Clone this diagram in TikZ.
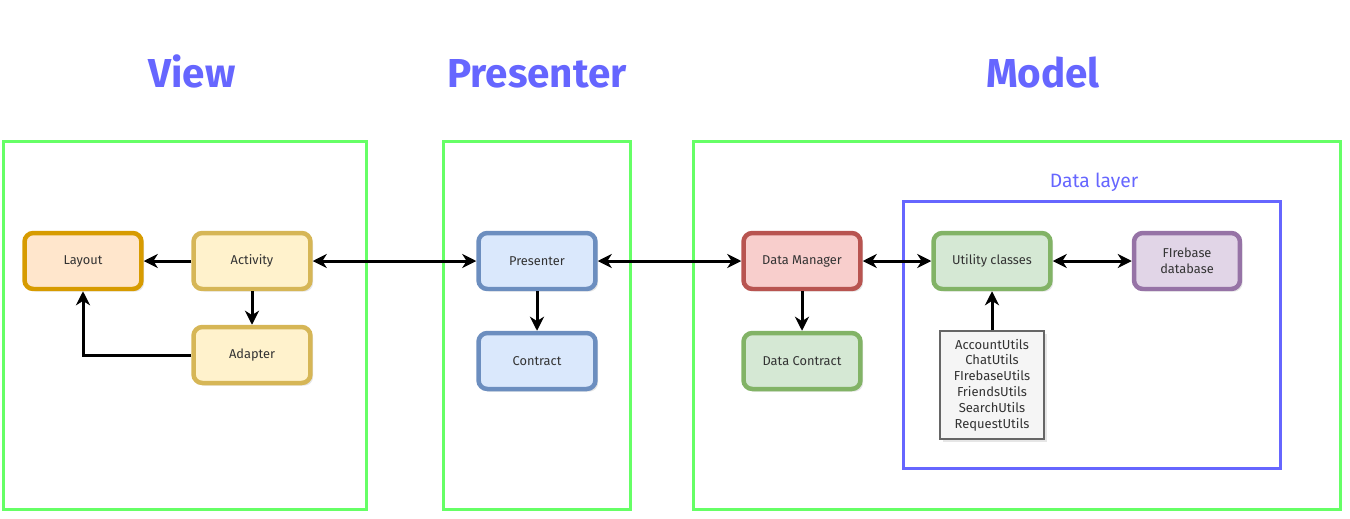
\documentclass[tikz,border=0pt]{standalone}
\usepackage{fontspec}
\setmainfont{Fira Sans}
\usetikzlibrary{arrows.meta, positioning, shadows}
\definecolor{titleblue}{HTML}{6666FF}
\definecolor{framegreen}{HTML}{66FF66}
\definecolor{orangefill}{HTML}{FFE6CC}
\definecolor{orangeline}{HTML}{D79B00}
\definecolor{yellowfill}{HTML}{FFF2CC}
\definecolor{yellowline}{HTML}{D6B656}
\definecolor{bluefill}{HTML}{DAE8FC}
\definecolor{blueline}{HTML}{6C8EBF}
\definecolor{redfill}{HTML}{F8CECC}
\definecolor{redline}{HTML}{B85450}
\definecolor{greenfill}{HTML}{D5E8D4}
\definecolor{greenline}{HTML}{82B366}
\definecolor{purplefill}{HTML}{E1D5E7}
\definecolor{purpleline}{HTML}{9673A6}
\definecolor{textgrey}{HTML}{333333}
\begin{document}
\begin{tikzpicture}[x=0.02cm, y=-0.02cm, >={Stealth[length=8pt,width=8pt,inset=2.5pt]}]

		% Define styles
		\tikzstyle{title} = [anchor=base, font=\fontsize{23}{27}\selectfont\bfseries, text=titleblue]
		\tikzstyle{frame} = [draw=framegreen, line width=0.07cm]
		\tikzstyle{layer} = [draw=titleblue, line width=0.07cm]
		\tikzstyle{block} = [rectangle, rounded corners=5pt, line width=0.09cm, minimum width=2.34cm, minimum height=1.12cm, text centered, align=center, text=textgrey, font=\fontsize{7.3}{9}\selectfont, drop shadow={opacity=0.2, shadow xshift=1.5pt, shadow yshift=-1.5pt}]
		\tikzstyle{utils} = [rectangle, draw=black!60, fill=black!4, line width=0.6pt, minimum width=2.08cm, minimum height=2.16cm, align=center, text=textgrey, font=\fontsize{7.4}{9}\selectfont, drop shadow={opacity=0.2, shadow xshift=1.5pt, shadow yshift=-1.5pt}]
		\tikzstyle{link} = [line width=0.06cm]

		\useasboundingbox (0,0) rectangle (1350,518);

		% Titles
		\node[title] at (192,87) {View};
		\node[title] at (537,87) {Presenter};
		\node[title] at (1043,87) {Model};

		% Frames
		\draw[frame] (3.5,141.5) rectangle (366.5,509.5);
		\draw[frame] (443.5,141.5) rectangle (630.5,509.5);
		\draw[frame] (693.5,141.5) rectangle (1340.5,509.5);
		\draw[layer] (903.5,201.5) rectangle (1280.5,468.5);
		\node[text=titleblue, font=\fontsize{11}{13}\selectfont] at (1094,182) {Data layer};

		% Nodes
		\node[block, fill=orangefill, draw=orangeline] (layout) at (83,261) {Layout};
		\node[block, fill=yellowfill, draw=yellowline] (activity) at (252,261) {Activity};
		\node[block, fill=yellowfill, draw=yellowline] (adapter) at (252,355) {Adapter};
		\node[block, fill=bluefill, draw=blueline] (presenter) at (537,261) {Presenter};
		\node[block, fill=bluefill, draw=blueline] (contract) at (537,361) {Contract};
		\node[block, fill=redfill, draw=redline] (manager) at (802,261) {Data Manager};
		\node[block, fill=greenfill, draw=greenline] (datacontract) at (802,361) {Data Contract};
		\node[block, fill=greenfill, draw=greenline] (utility) at (992,261) {Utility classes};
		\node[block, fill=purplefill, draw=purpleline, minimum width=2.12cm] (firebase) at (1187,261) {FIrebase\\database};
		\node[utils] (utillist) at (992,385) {AccountUtils\\ChatUtils\\FIrebaseUtils\\FriendsUtils\\SearchUtils\\RequestUtils};

		% Arrows
		\draw[link, ->] (activity) -- (layout);
		\draw[link, ->] (activity) -- (adapter);
		\draw[link, ->] (adapter.west) -| (layout.south);
		\draw[link, <->] (activity) -- (presenter);
		\draw[link, ->] (presenter) -- (contract);
		\draw[link, <->] (presenter) -- (manager);
		\draw[link, ->] (manager) -- (datacontract);
		\draw[link, <->] (manager) -- (utility);
		\draw[link, <->] (utility) -- (firebase);
		\draw[link, ->] (utillist) -- (utility);

	\end{tikzpicture}
\end{document}
